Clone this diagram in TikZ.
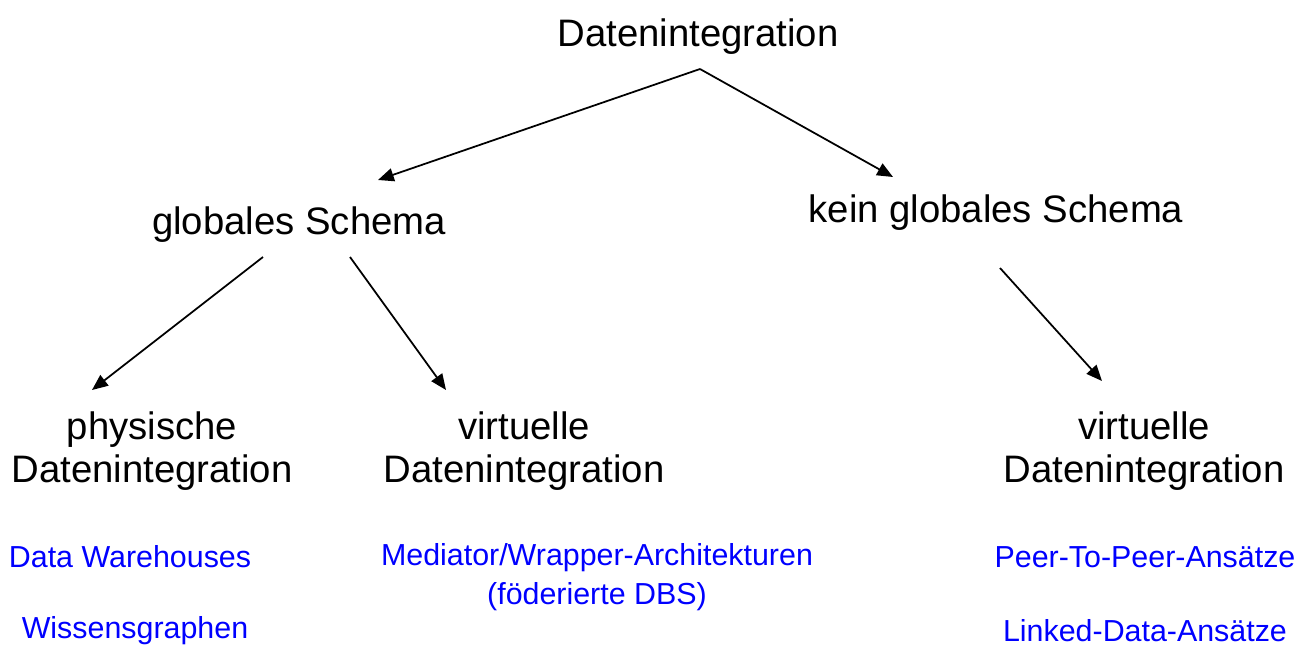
\documentclass[tikz,border=0pt]{standalone}
\usepackage{fontspec}
\setmainfont{Liberation Sans}
\usetikzlibrary{positioning,arrows.meta,calc}

\begin{document}
\begin{tikzpicture}[x=0.02cm,y=-0.02cm,
  big/.style={align=center,font=\fontsize{21.8}{24.5}\selectfont},
  ex/.style={align=center,text=blue,font=\fontsize{17.3}{22.2}\selectfont},
  arr/.style={-{Triangle[length=9pt,width=7.5pt]},line width=1pt}]
\useasboundingbox (0,0) rectangle (1309,646);
%the tree
\node[big] (di) at (698,37) {Datenintegration};
\node[big] (gs) at (299,225) {globales Schema};
\node[big] (kgs) at (996,213) {kein globales Schema};
\node[big] (phys) at (152,451) {physische\\Datenintegration};
\node[big] (virt) at (524,451) {virtuelle\\Datenintegration};
\node[big] (virtk) at (1144,451) {virtuelle\\Datenintegration};
%the arrows
\draw[arr] ($(di)+(2,32)$) -- ($(gs)+(79,-45)$);
\draw[arr] ($(di)+(2,32)$) -- ($(kgs)+(-103,-36)$);
\draw[arr] ($(gs)+(-36,32)$) -- ($(phys)+(-60,-61)$);
\draw[arr] ($(gs)+(51,32)$) -- ($(virt)+(-78,-61)$);
\draw[arr] ($(kgs)+(4,55)$) -- ($(virtk)+(-42,-70)$);
%examples below each leaf
\node[ex] (dw) at (130,557) {Data Warehouses};
\node[ex] (wg) at (135,631) {Wissensgraphen};
\node[ex] (med) at (597,577) {Mediator/Wrapper-Architekturen\\(föderierte DBS)};
\node[ex] (p2p) at (1145,557) {Peer-To-Peer-Ansätze};
\node[ex] (ld) at (1145,631) {Linked-Data-Ansätze};
\end{tikzpicture}
\end{document}
